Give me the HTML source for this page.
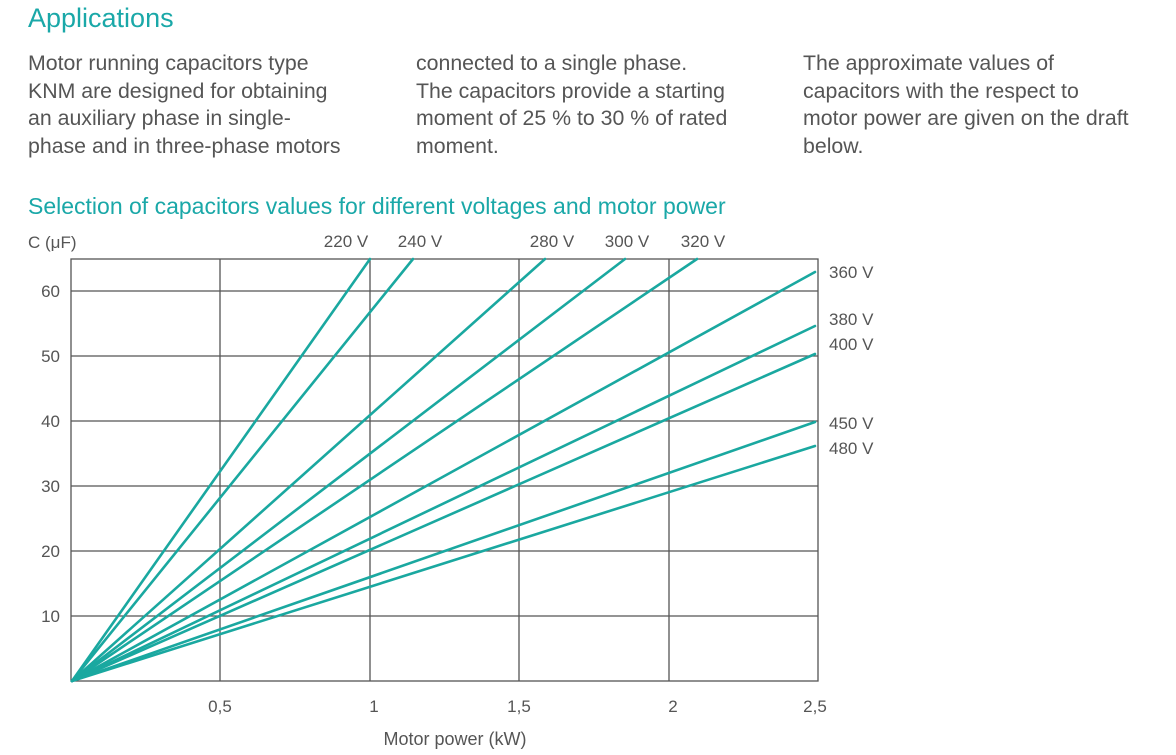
<!DOCTYPE html>
<html><head><meta charset="utf-8"><style>
body{margin:0;width:1176px;height:755px;background:#fff;font-family:"Liberation Sans",sans-serif;position:relative;overflow:hidden}
h1{position:absolute;left:28px;top:3px;margin:0;font-weight:normal;font-size:27px;color:#1aa8a8}
.p{position:absolute;top:50px;font-size:21.3px;line-height:27.5px;color:#555}
.sub{position:absolute;left:28px;top:193px;font-size:23px;color:#1aa8a8}
</style></head><body>
<h1>Applications</h1>
<div class="p" style="left:28px">Motor running capacitors type<br>KNM are designed for obtaining<br>an auxiliary phase in single-<br>phase and in three-phase motors</div>
<div class="p" style="left:416px">connected to a single phase.<br>The capacitors provide a starting<br>moment of 25 % to 30 % of rated<br>moment.</div>
<div class="p" style="left:803px">The approximate values of<br>capacitors with the respect to<br>motor power are given on the draft<br>below.</div>
<div class="sub">Selection of capacitors values for different voltages and motor power</div>
<svg width="1176" height="755" style="position:absolute;left:0;top:0" font-family="Liberation Sans, sans-serif" font-size="17" fill="#555">
<g stroke="#555" stroke-width="1.3" fill="none">
<rect x="71" y="259" width="747" height="422"/>
<line x1="220" y1="259" x2="220" y2="681"/><line x1="370" y1="259" x2="370" y2="681"/>
<line x1="519" y1="259" x2="519" y2="681"/><line x1="669" y1="259" x2="669" y2="681"/>
<line x1="71" y1="291" x2="818" y2="291"/><line x1="71" y1="356" x2="818" y2="356"/>
<line x1="71" y1="421" x2="818" y2="421"/><line x1="71" y1="486" x2="818" y2="486"/>
<line x1="71" y1="551" x2="818" y2="551"/><line x1="71" y1="616" x2="818" y2="616"/>
</g>
<g stroke="#1aa8a0" stroke-width="2.6" fill="none" stroke-linecap="round">
<line x1="72" y1="681" x2="370" y2="259"/><line x1="72" y1="681" x2="413" y2="259"/>
<line x1="72" y1="681" x2="545" y2="259"/><line x1="72" y1="681" x2="625" y2="259"/>
<line x1="72" y1="681" x2="697" y2="259"/><line x1="72" y1="681" x2="815" y2="272"/>
<line x1="72" y1="681" x2="815" y2="326"/><line x1="72" y1="681" x2="815" y2="354"/>
<line x1="72" y1="681" x2="815" y2="422"/><line x1="72" y1="681" x2="815" y2="446"/>
</g>
<text x="28" y="248">C (μF)</text>
<g text-anchor="end"><text x="60" y="297">60</text><text x="60" y="362">50</text><text x="60" y="427">40</text><text x="60" y="492">30</text><text x="60" y="557">20</text><text x="60" y="622">10</text></g>
<g text-anchor="middle"><text x="220" y="712">0,5</text><text x="374" y="712">1</text><text x="519" y="712">1,5</text><text x="673" y="712">2</text><text x="815" y="712">2,5</text>
<text x="455" y="745" font-size="18">Motor power (kW)</text>
<text x="346" y="247">220 V</text><text x="420" y="247">240 V</text><text x="552" y="247">280 V</text><text x="627" y="247">300 V</text><text x="703" y="247">320 V</text></g>
<text x="829" y="278">360 V</text><text x="829" y="325">380 V</text><text x="829" y="350">400 V</text><text x="829" y="429">450 V</text><text x="829" y="454">480 V</text>
</svg>
</body></html>
